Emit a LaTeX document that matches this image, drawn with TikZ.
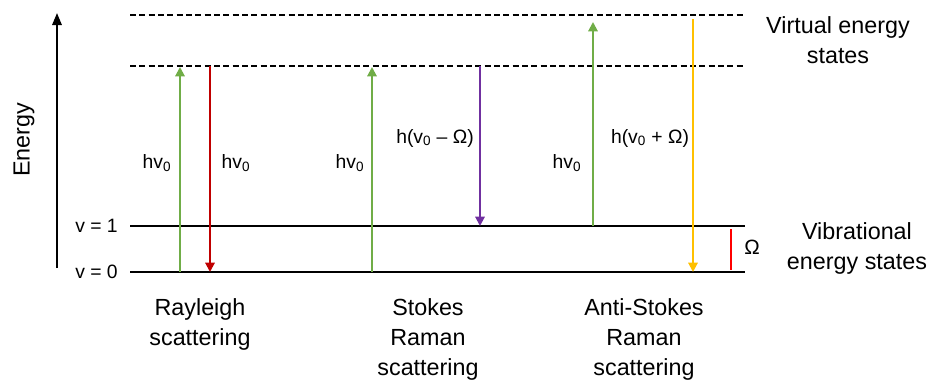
\documentclass[tikz,border=0pt]{standalone}
\usepackage{fontspec}
\setmainfont{Liberation Sans}
\usetikzlibrary{arrows.meta}
\definecolor{cgreen}{HTML}{70AD47}
\definecolor{cred}{HTML}{C00000}
\definecolor{cpurple}{HTML}{7030A0}
\definecolor{cyellow}{HTML}{FFC000}
\definecolor{cbright}{HTML}{FF0000}
\begin{document}
\begin{tikzpicture}[x=0.75pt,y=-0.75pt,
  level/.style={line width=1.5pt},
  vlevel/.style={line width=1.1pt,dash pattern=on 4.5pt off 2.5pt},
  trans/.style={line width=1.5pt,-{Triangle[length=7pt,width=7pt]}},
  big/.style={font=\fontsize{17.5}{22.5}\selectfont,align=center,inner sep=0pt},
  small/.style={font=\fontsize{14.5}{17}\selectfont,inner sep=0pt}]
\useasboundingbox (0,0) rectangle (933,380);
% energy axis
\coordinate (ax0) at (57,268);
\coordinate (ax1) at (57,13);
\draw[line width=1.5pt,-{Triangle[length=9pt,width=7pt]}] (ax0) -- (ax1);
\node[big,rotate=90] (energy) at (24,140) {Energy};
% levels
\coordinate (vt0) at (130,15);  \coordinate (vt1) at (745,15);
\coordinate (vm0) at (130,66);  \coordinate (vm1) at (745,66);
\coordinate (l10) at (130,226); \coordinate (l11) at (745,226);
\coordinate (l00) at (130,272); \coordinate (l01) at (745,272);
\draw[vlevel] (vt0) -- (vt1);
\draw[vlevel] (vm0) -- (vm1);
\draw[level] (l10) -- (l11);
\draw[level] (l00) -- (l01);
\node[small,anchor=east] (v1) at (118,226) {v = 1};
\node[small,anchor=east] (v0) at (118,272) {v = 0};
% Rayleigh
\coordinate (r1b) at (180,272); \coordinate (r1t) at (180,67);
\coordinate (r2t) at (210,66);  \coordinate (r2b) at (210,272);
\draw[trans,cgreen] (r1b) -- (r1t);
\draw[trans,cred] (r2t) -- (r2b);
\node[small] (rl1) at (157,163) {hv\textsubscript{0}};
\node[small] (rl2) at (236,163) {hv\textsubscript{0}};
% Stokes
\coordinate (s1b) at (372,272); \coordinate (s1t) at (372,67);
\coordinate (s2t) at (480,66);  \coordinate (s2b) at (480,226);
\draw[trans,cgreen] (s1b) -- (s1t);
\draw[trans,cpurple] (s2t) -- (s2b);
\node[small] (sl1) at (350,163) {hv\textsubscript{0}};
\node[small] (sl2) at (435,138) {h(v\textsubscript{0} – Ω)};
% Anti-Stokes
\coordinate (a1b) at (593,226); \coordinate (a1t) at (593,22);
\coordinate (a2t) at (693,19);  \coordinate (a2b) at (693,272);
\draw[trans,cgreen] (a1b) -- (a1t);
\draw[trans,cyellow] (a2t) -- (a2b);
\node[small] (al1) at (567,163) {hv\textsubscript{0}};
\node[small] (al2) at (650,138) {h(v\textsubscript{0} + Ω)};
% Omega bar
\coordinate (ob0) at (731,229); \coordinate (ob1) at (731,270);
\draw[line width=1.5pt,cbright] (ob0) -- (ob1);
\node[small,font=\fontsize{15.5}{18}\selectfont] (om) at (752,247) {Ω};
% right labels
\node[big] (virt) at (838,40) {Virtual energy\\states};
\node[big] (vib) at (857,248) {Vibrational\\energy states};
% bottom labels
\node[big,anchor=north] (ray) at (200,298) {Rayleigh\\scattering};
\node[big,anchor=north] (sto) at (428,298) {Stokes\\Raman\\scattering};
\node[big,anchor=north] (ast) at (644,298) {Anti-Stokes\\Raman\\scattering};
\end{tikzpicture}
\end{document}
